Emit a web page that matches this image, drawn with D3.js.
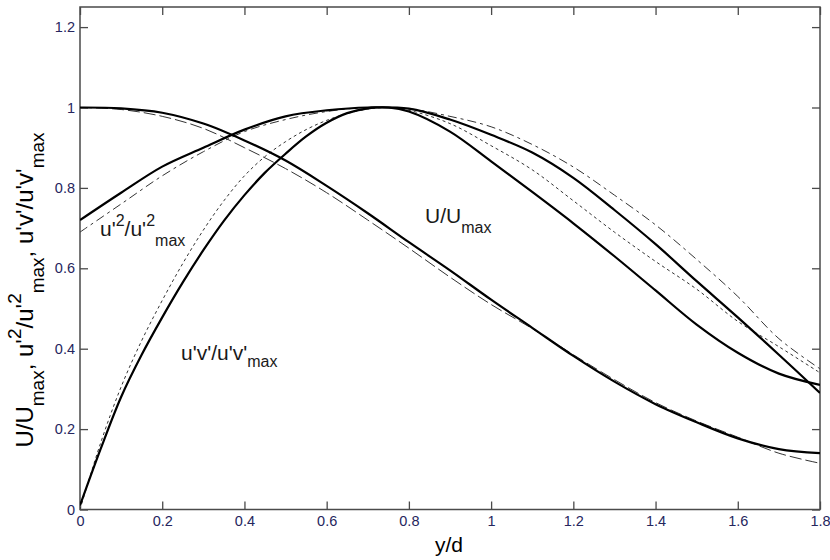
<!DOCTYPE html>
<html>
<head>
<meta charset="utf-8">
<script src="https://cdn.jsdelivr.net/npm/d3@7"></script>
<style>
  body { margin: 0; background: #fff; }
  svg { display: block; font-family: Arial, "Liberation Sans", sans-serif; }
</style>
</head>
<body>
<script>
// y/d positions
var yd = [0, 0.1, 0.2, 0.3, 0.4, 0.5, 0.6, 0.7, 0.8, 0.9, 1.0, 1.1, 1.2, 1.3, 1.4, 1.5, 1.6, 1.7, 1.8];
var ydFine = [0, 0.05, 0.1, 0.15, 0.2, 0.25, 0.3, 0.35, 0.4, 0.45, 0.5, 0.55, 0.6, 0.65, 0.7, 0.75,
              0.8, 0.9, 1.0, 1.1, 1.2, 1.3, 1.4, 1.5, 1.6, 1.7, 1.8];

// mean velocity U/Umax
var uExp   = [1.0, 0.998, 0.987, 0.96, 0.918, 0.868, 0.805, 0.737, 0.665, 0.595, 0.522, 0.452, 0.382, 0.318, 0.262, 0.217, 0.177, 0.15, 0.14];
var uModel = [1.0, 0.995, 0.978, 0.948, 0.9, 0.848, 0.788, 0.72, 0.65, 0.578, 0.51, 0.45, 0.385, 0.323, 0.266, 0.22, 0.18, 0.14, 0.115];

// u'^2 / u'^2 max
var uuExp   = [0.72, 0.788, 0.853, 0.9, 0.945, 0.978, 0.993, 1.0, 0.997, 0.97, 0.932, 0.888, 0.825, 0.745, 0.66, 0.568, 0.478, 0.385, 0.29];
var uuModel = [0.69, 0.76, 0.83, 0.89, 0.94, 0.97, 0.99, 1.0, 0.997, 0.978, 0.952, 0.908, 0.852, 0.782, 0.708, 0.622, 0.53, 0.425, 0.35];

// u'v' / u'v' max
var uvExp   = [0.01, 0.15, 0.28, 0.385, 0.478, 0.565, 0.645, 0.718, 0.782, 0.838, 0.885, 0.928, 0.962, 0.986, 0.998, 1.0,
               0.99, 0.94, 0.866, 0.79, 0.712, 0.63, 0.545, 0.46, 0.39, 0.338, 0.31];
var uvModel = [0, 0.165, 0.305, 0.42, 0.52, 0.612, 0.695, 0.768, 0.83, 0.878, 0.915, 0.945, 0.968, 0.985, 0.996, 1.0,
               0.993, 0.96, 0.905, 0.845, 0.768, 0.69, 0.617, 0.548, 0.468, 0.405, 0.34];

var xTicks = [0, 0.2, 0.4, 0.6, 0.8, 1, 1.2, 1.4, 1.6, 1.8];
var yTicks = [0, 0.2, 0.4, 0.6, 0.8, 1, 1.2];

var W = 830, H = 560;
var svg = d3.select("body").append("svg").attr("width", W).attr("height", H);

var x = d3.scaleLinear().domain([0, 1.8]).range([80, 820]);
var y = d3.scaleLinear().domain([0, 1.25]).range([509.5, 7]);

var axisColor = "#4a4a4a", tickText = "#26265e";

function styleAxis(g, showText) {
    g.select(".domain").remove();
    g.selectAll(".tick line").attr("stroke", axisColor).attr("stroke-width", 1.3);
    g.selectAll(".tick text").attr("fill", tickText).attr("font-size", "14.5px")
        .style("display", showText ? null : "none");
}

svg.append("g").attr("transform", "translate(0," + y(0) + ")")
    .call(d3.axisBottom(x).tickValues(xTicks).tickSizeInner(-8).tickSizeOuter(0).tickPadding(6).tickFormat(d3.format("")))
    .call(function (g) { styleAxis(g, true); });
svg.append("g").attr("transform", "translate(0," + y(1.25) + ")")
    .call(d3.axisTop(x).tickValues(xTicks).tickSizeInner(-8).tickSizeOuter(0))
    .call(function (g) { styleAxis(g, false); });
svg.append("g").attr("transform", "translate(" + x(0) + ",0)")
    .call(d3.axisLeft(y).tickValues(yTicks).tickSizeInner(-8).tickSizeOuter(0).tickPadding(5).tickFormat(d3.format("")))
    .call(function (g) { styleAxis(g, true); });
svg.append("g").attr("transform", "translate(" + x(1.8) + ",0)")
    .call(d3.axisRight(y).tickValues(yTicks).tickSizeInner(-8).tickSizeOuter(0))
    .call(function (g) { styleAxis(g, false); });

svg.append("rect")
    .attr("x", x(0)).attr("y", y(1.25))
    .attr("width", x(1.8) - x(0)).attr("height", y(0) - y(1.25))
    .attr("fill", "none").attr("stroke", axisColor).attr("stroke-width", 1.5);

var line = d3.line()
    .x(function (d) { return x(d[0]); })
    .y(function (d) { return y(d[1]); })
    .curve(d3.curveCatmullRom.alpha(0.5));

function zip(xs, ys) { return xs.map(function (v, i) { return [v, ys[i]]; }); }

var series = [
    { pts: zip(yd, uModel), dash: "12,4", w: 1, c: "#333" },
    { pts: zip(yd, uuModel), dash: "9,4,3,4", w: 1, c: "#333" },
    { pts: zip(ydFine, uvModel), dash: "3,3", w: 1, c: "#333" },
    { pts: zip(yd, uExp), dash: null, w: 2.2, c: "#000" },
    { pts: zip(yd, uuExp), dash: null, w: 2.2, c: "#000" },
    { pts: zip(ydFine, uvExp), dash: null, w: 2.2, c: "#000" }
];

svg.append("clipPath").attr("id", "plotclip").append("rect")
    .attr("x", x(0)).attr("y", y(1.25)).attr("width", x(1.8) - x(0)).attr("height", y(0) - y(1.25));

svg.append("g").attr("clip-path", "url(#plotclip)")
    .selectAll("path.curve").data(series).enter().append("path")
    .attr("class", "curve")
    .attr("d", function (d) { return line(d.pts); })
    .attr("fill", "none")
    .attr("stroke", function (d) { return d.c; })
    .attr("stroke-width", function (d) { return d.w; })
    .attr("stroke-dasharray", function (d) { return d.dash; });

// text with sub/superscripts: parts are [string, 0 | 1 (sup) | -1 (sub)]
function rich(text, parts, size, small, subShift) {
    var off = 0;
    subShift = subShift || 0.46;
    parts.forEach(function (p) {
        var target = p[1] === 1 ? -0.5 * size : (p[1] === -1 ? subShift * size : 0);
        text.append("tspan")
            .attr("dy", target - off)
            .attr("font-size", p[1] === 0 ? size : small)
            .text(p[0]);
        off = target;
    });
}

var labelColor = "#1a1a1a";

rich(svg.append("text").attr("x", 100).attr("y", 236).attr("fill", labelColor),
    [["u'", 0], ["2", 1], ["/u'", 0], ["2", 1], ["max", -1]], 21, 16);
rich(svg.append("text").attr("x", 425).attr("y", 223).attr("fill", labelColor),
    [["U/U", 0], ["max", -1]], 21, 16);
rich(svg.append("text").attr("x", 181).attr("y", 360).attr("fill", labelColor),
    [["u'v'/u'v'", 0], ["max", -1]], 21, 16, 0.33);

// axis titles
svg.append("text").attr("x", 449).attr("y", 552).attr("text-anchor", "middle")
    .attr("font-size", 21).attr("fill", "#000").text("y/d");

rich(svg.append("text").attr("text-anchor", "middle").attr("fill", "#000")
        .attr("transform", "translate(33,290) rotate(-90)"),
    [["U/U", 0], ["max", -1], [", u'", 0], ["2", 1], ["/u'", 0], ["2", 1], ["max", -1],
     [", u'v'/u'v'", 0], ["max", -1]], 24, 19);
</script>
</body>
</html>
